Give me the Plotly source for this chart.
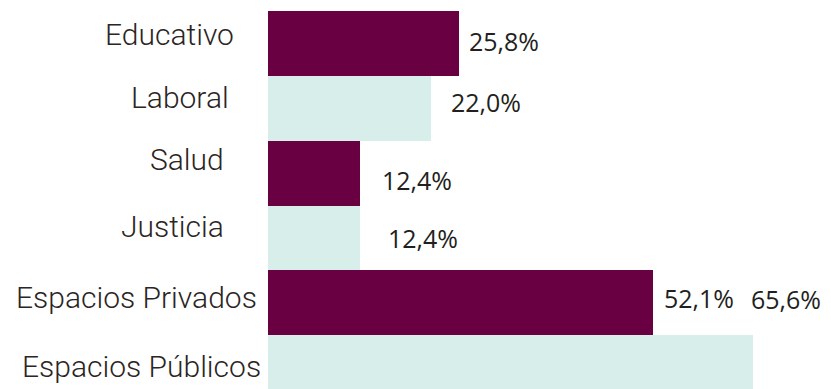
import plotly.graph_objects as go

# Data
categories = ["Educativo", "Laboral", "Salud", "Justicia",
              "Espacios Privados", "Espacios Públicos"]
values = [25.8, 22.0, 12.4, 12.4, 52.1, 65.6]
value_labels = ["25,8%", "22,0%", "12,4%", "12,4%", "52,1%", "65,6%"]

# Styling
bar_colors = ["#690041", "#d8eeeb"] * 3
cat_font = dict(family="Roboto", size=30, color="#2b2523", weight=300)
val_font = dict(family="Open Sans", size=25, color="#231f20")

# per-label pixel nudges (x, y) for category and value texts
cat_offsets = [(-32, 9), (-37, 11), (-42, 14), (-42, 11), (-9, 5), (-5, 1)]
val_offsets = [(8, 2), (18, 6), (20, -7), (26, 0), (9, 5), (-4, 69)]

fig = go.Figure(go.Bar(
    y=categories,
    x=values,
    orientation="h",
    marker=dict(color=bar_colors, line=dict(width=0)),
    hoverinfo="skip",
))

annotations = []
for cat, (dx, dy) in zip(categories, cat_offsets):
    annotations.append(dict(
        xref="paper", yref="y", x=0, y=cat, text=cat,
        xanchor="right", yanchor="middle", showarrow=False,
        xshift=dx, yshift=dy, font=cat_font,
    ))
for cat, v, lab, (dx, dy) in zip(categories, values, value_labels, val_offsets):
    annotations.append(dict(
        xref="x", yref="y", x=v, y=cat, text=lab,
        xanchor="left", yanchor="middle", showarrow=False,
        xshift=dx, yshift=dy, font=val_font,
    ))

fig.update_layout(
    width=831, height=389,
    margin=dict(l=268, r=0, t=11, b=0),
    paper_bgcolor="white", plot_bgcolor="white",
    bargap=0,
    showlegend=False,
    annotations=annotations,
    xaxis=dict(visible=False, range=[0, 76.18], fixedrange=True),
    yaxis=dict(
        categoryorder="array", categoryarray=categories,
        range=[5.83 - 0.5, -0.5],
        showticklabels=False, showgrid=False, zeroline=False,
        fixedrange=True,
    ),
)

fig.write_html("out.html", config={"displayModeBar": False})
